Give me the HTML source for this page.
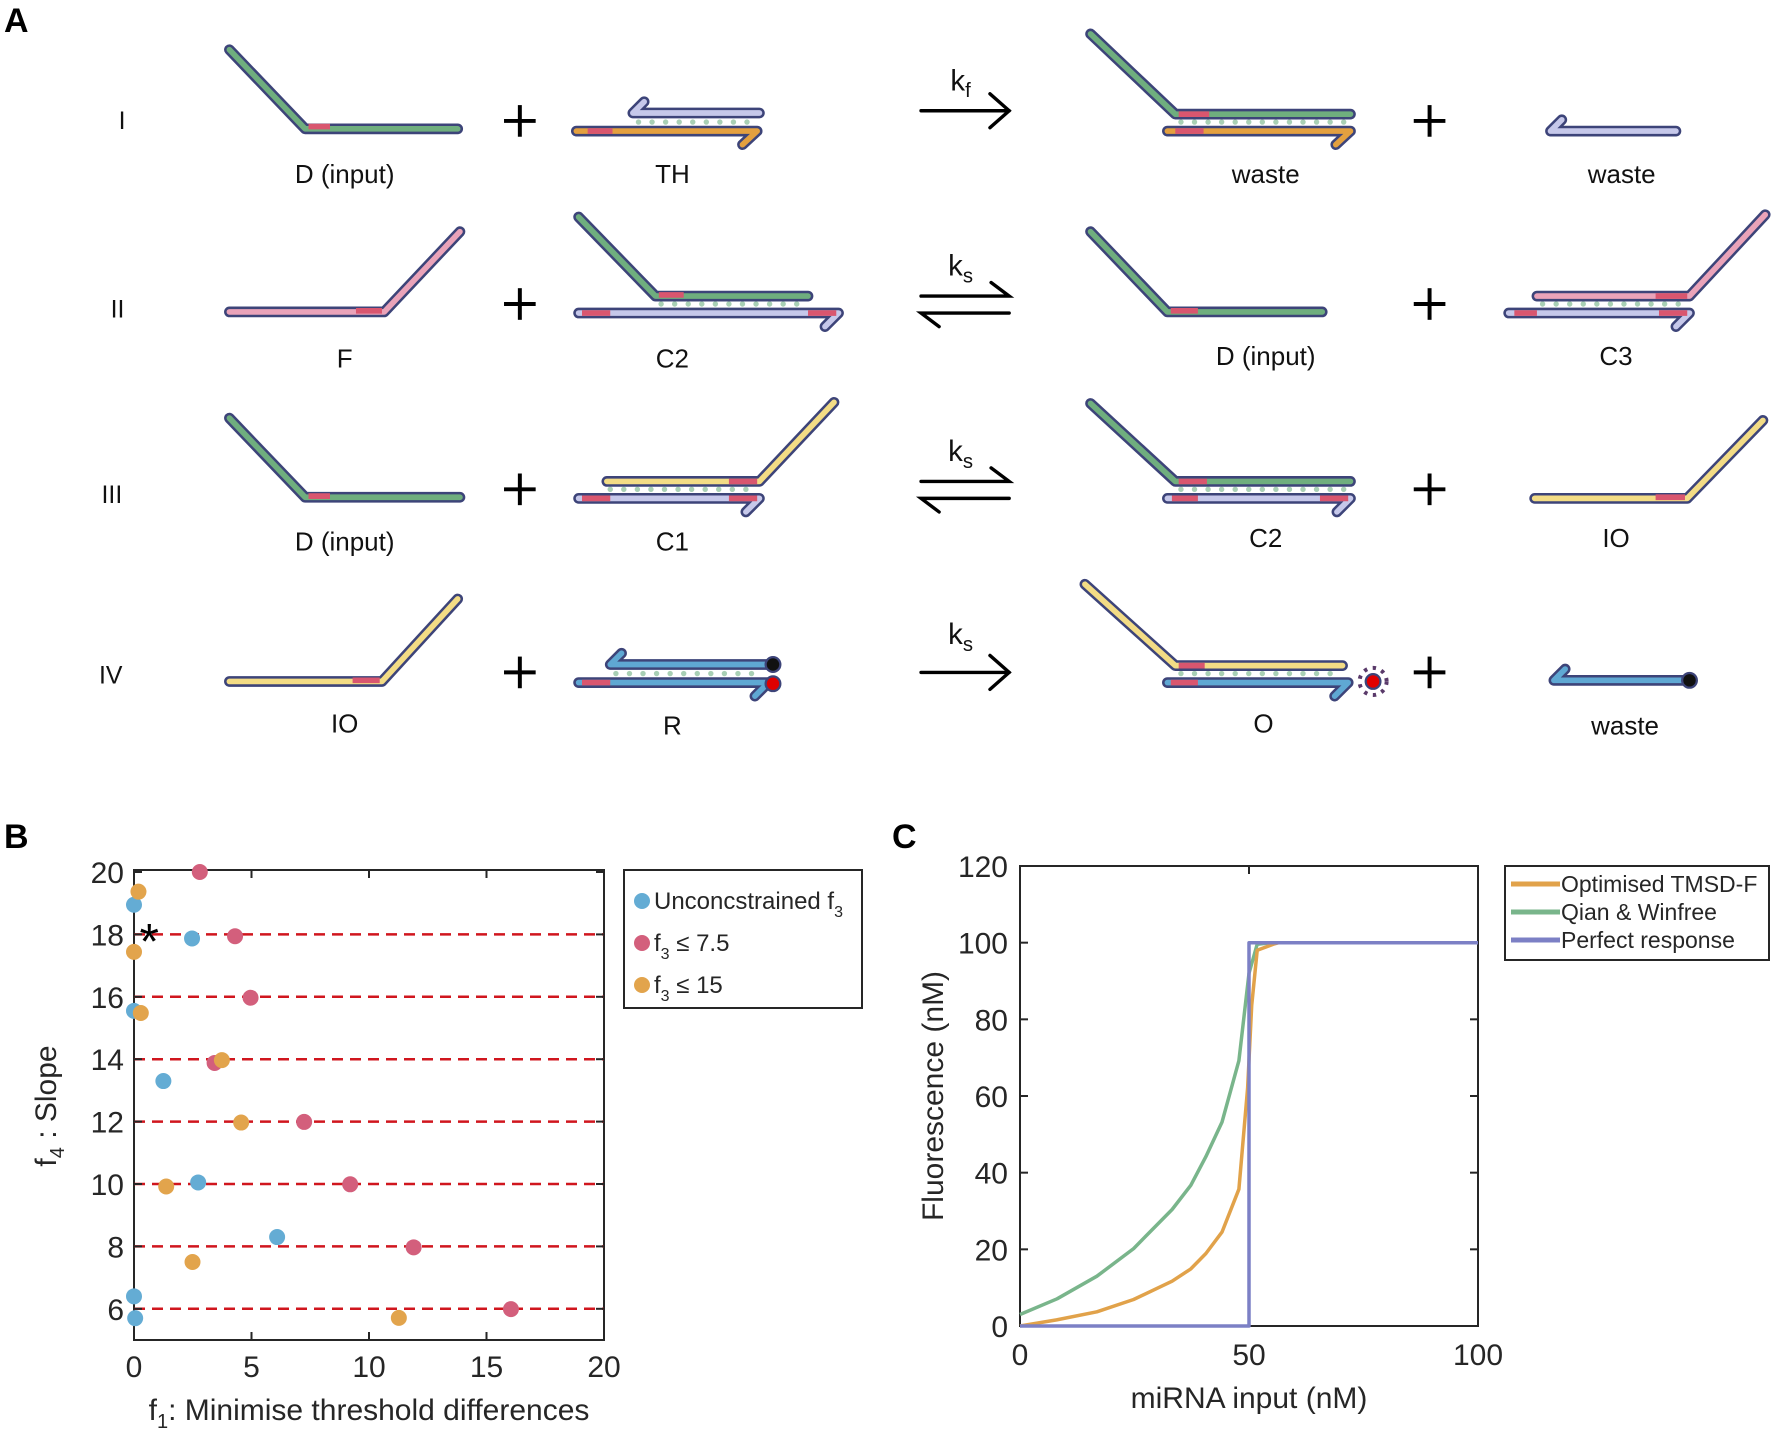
<!DOCTYPE html>
<html><head><meta charset="utf-8"><style>
html,body{margin:0;padding:0;background:#fff;}
svg{display:block;font-family:"Liberation Sans",Arial,sans-serif;}
</style></head><body>
<svg id="fig" width="1772" height="1439" viewBox="0 0 1772 1439" xmlns="http://www.w3.org/2000/svg">
<rect width="1772" height="1439" fill="#fff"/>
<g id="panelA" transform="scale(1.1301)"></g>
<g id="panelB"></g>
<g id="panelC"></g>
</svg>
<script>
// ---------- Panel B data ----------
const bXTicks = [0, 5, 10, 15, 20];
const bYTicks = [6, 8, 10, 12, 14, 16, 18, 20];
const bDashLevels = [6, 8, 10, 12, 14, 16, 18];
const bBlueX = [0, 2.47, 0, 1.25, 2.73, 6.09, 0, 0.05];
const bBlueY = [18.95, 17.87, 15.55, 13.3, 10.05, 8.3, 6.4, 5.7];
const bRedX = [2.8, 4.3, 4.96, 3.43, 7.24, 9.2, 11.9, 16.04];
const bRedY = [20.0, 17.94, 15.97, 13.88, 11.99, 9.99, 7.97, 5.99];
const bOrangeX = [0.19, 0, 0.29, 3.74, 4.56, 1.37, 2.49, 11.27];
const bOrangeY = [19.37, 17.44, 15.48, 13.97, 11.97, 9.92, 7.5, 5.71];
const bStar = [0.65, 17.94];
// ---------- Panel C data ----------
const cXTicks = [0, 50, 100];
const cYTicks = [0, 20, 40, 60, 80, 100, 120];
const cGreenX = [0, 8.1, 16.8, 24.8, 33.2, 37.3, 40.6, 44.1, 47.8, 50, 51.8, 55, 100];
const cGreenY = [3, 7.1, 13, 20.2, 30.4, 36.7, 44.2, 53.2, 69.2, 92, 99.6, 100, 100];
const cOrangeX = [0, 8, 16.8, 24.8, 33.2, 37.3, 40.6, 44.1, 47.8, 49.7, 50.6, 51.8, 55.3, 56.5, 100];
const cOrangeY = [0, 1.6, 3.7, 6.9, 11.7, 14.9, 18.9, 24.5, 35.7, 62, 83.6, 98, 99.6, 100, 100];
const cPerfectX = [0, 50, 50, 100];
const cPerfectY = [0, 0, 100, 100];

const NS = "http://www.w3.org/2000/svg";
function mk(parent, tag, attrs, text) {
  const e = document.createElementNS(NS, tag);
  for (const k in attrs) e.setAttribute(k, attrs[k]);
  if (text !== undefined) e.textContent = text;
  parent.appendChild(e);
  return e;
}

// ================= PANEL A =================
const A = document.getElementById('panelA');
const OUT = '#3d4479';
function strand(pts, color, reds, name) {
  const g = mk(A, 'g', {});
  
  
  const d = pts.map((p, i) => (i ? 'L' : 'M') + p[0] + ' ' + p[1]).join(' ');
  mk(g, 'path', {d: d, fill: 'none', stroke: OUT, 'stroke-width': 9.5, 'stroke-linecap': 'round', 'stroke-linejoin': 'round'});
  mk(g, 'path', {d: d, fill: 'none', stroke: color, 'stroke-width': 5, 'stroke-linecap': 'round', 'stroke-linejoin': 'round'});
  (reds || []).forEach(r => mk(g, 'line', {x1: r[0], y1: r[2], x2: r[1], y2: r[2], stroke: '#d9566f', 'stroke-width': 5}));
}
function dots(x1, x2, y) {
  const g = mk(A, 'g', {});
  
  
  for (let x = x1; x <= x2; x += 12) mk(g, 'circle', {cx: x, cy: y, r: 2.4, fill: '#a9d0b5'});
}
function plus(x, y) {
  const g = mk(A, 'g', {stroke: '#000', 'stroke-width': 3.5});
  
  
  mk(g, 'line', {x1: x - 14, y1: y, x2: x + 14, y2: y});
  mk(g, 'line', {x1: x, y1: y - 14, x2: x, y2: y + 14});
}
function label(x, y, t, size) {
  const e = mk(A, 'text', {x: x, y: y, 'text-anchor': 'middle', 'font-size': size || 23, fill: '#111'}, t);
  
  
  return e;
}
function rate(x, y, sub) {
  const e = mk(A, 'text', {x: x, y: y, 'text-anchor': 'middle', 'font-size': 26, fill: '#111'});
  
  
  e.appendChild(document.createTextNode('k'));
  mk(e, 'tspan', {'font-size': 18, dy: 6}, sub);
}
function arrowF(y) {
  const g = mk(A, 'g', {stroke: '#000', 'stroke-width': 3, fill: 'none', 'stroke-linecap': 'round'});
  
  
  mk(g, 'line', {x1: 815, y1: y, x2: 893, y2: y});
  mk(g, 'path', {d: `M876 ${y - 15} L893 ${y} L876 ${y + 15}`});
}
function arrowEq(y1, y2) {
  const g = mk(A, 'g', {stroke: '#000', 'stroke-width': 3, fill: 'none', 'stroke-linecap': 'round'});
  
  
  mk(g, 'path', {d: `M815 ${y1} L893 ${y1} L877 ${y1 - 12}`});
  mk(g, 'path', {d: `M893 ${y2} L815 ${y2} L831 ${y2 + 12}`});
}
function rowLabel(x, y, t) {
  const e = mk(A, 'text', {x: x, y: y, 'text-anchor': 'middle', 'font-size': 22, fill: '#111'}, t);
  
  
}
const G = '#6fae7e', P = '#eaa3b9', L = '#c6c8ea', O = '#e4a03f', Y = '#f3dc85', B = '#5fa8d3';
// Row I
rowLabel(108, 114, 'I');
strand([[203, 44], [270, 114], [405, 114]], G, [[273, 292, 112]], 'strand-d-input');
label(305, 162, 'D (input)');
plus(460, 107);
dots(565, 668, 108);
strand([[570, 90], [560, 100], [672, 100]], L, [], 'strand-th-top');
strand([[510, 116], [670, 116], [657, 128]], O, [[520, 542, 116]], 'strand-th-bottom');
label(595, 162, 'TH');
arrowF(98); rate(850, 80, 'f');
dots(1045, 1190, 108);
strand([[965, 30], [1040, 101], [1195, 101]], G, [[1043, 1070, 101]], 'strand-waste-green');
strand([[1033, 116], [1195, 116], [1182, 128]], O, [[1040, 1065, 116]], 'strand-waste-orange');
label(1120, 162, 'waste');
plus(1265, 107);
strand([[1382, 106], [1372, 116], [1483, 116]], L, [], 'strand-waste-lavender');
label(1435, 162, 'waste');
// Row II
rowLabel(104, 281, 'II');
strand([[203, 276], [340, 276], [407, 205]], P, [[315, 338, 275]], 'strand-f');
label(305, 325, 'F');
plus(460, 269);
dots(585, 710, 269);
strand([[512, 192], [580, 262], [715, 262]], G, [[583, 605, 261]], 'strand-c2-top');
strand([[512, 277], [742, 277], [730, 289]], L, [[515, 540, 277], [715, 740, 277]], 'strand-c2-bottom');
label(595, 325, 'C2');
arrowEq(262, 277); rate(850, 244, 's');
strand([[965, 205], [1033, 276], [1170, 276]], G, [[1036, 1060, 275]], 'strand-d-input-2');
label(1120, 323, 'D (input)');
plus(1265, 269);
dots(1365, 1490, 269);
strand([[1360, 262], [1495, 262], [1562, 190]], P, [[1465, 1493, 262]], 'strand-c3-top');
strand([[1335, 277], [1495, 277], [1483, 289]], L, [[1340, 1360, 277], [1468, 1493, 277]], 'strand-c3-bottom');
label(1430, 323, 'C3');
// Row III
rowLabel(99, 445, 'III');
strand([[203, 370], [270, 440], [407, 440]], G, [[273, 292, 439]], 'strand-d-input-3');
label(305, 487, 'D (input)');
plus(460, 433);
dots(540, 668, 433);
strand([[537, 426], [672, 426], [738, 356]], Y, [[645, 670, 426]], 'strand-c1-top');
strand([[512, 441], [672, 441], [660, 453]], L, [[515, 540, 441], [645, 670, 441]], 'strand-c1-bottom');
label(595, 487, 'C1');
arrowEq(426, 441); rate(850, 408, 's');
dots(1045, 1190, 433);
strand([[965, 357], [1040, 426], [1195, 426]], G, [[1043, 1068, 426]], 'strand-c2-top-2');
strand([[1033, 441], [1195, 441], [1183, 453]], L, [[1037, 1060, 441], [1168, 1193, 441]], 'strand-c2-bottom-2');
label(1120, 484, 'C2');
plus(1265, 433);
strand([[1358, 441], [1493, 441], [1560, 372]], Y, [[1465, 1491, 440]], 'strand-io');
label(1430, 484, 'IO');
// Row IV
rowLabel(98, 605, 'IV');
strand([[203, 603], [338, 603], [405, 530]], Y, [[312, 336, 602]], 'strand-io-2');
label(305, 648, 'IO');
plus(460, 595);
dots(545, 675, 596);
strand([[550, 578], [540, 588], [680, 588]], B, [], 'strand-r-top');
strand([[512, 604], [680, 604], [668, 616]], B, [[515, 540, 604]], 'strand-r-bottom');
(function(){
  const q = mk(A, 'circle', {cx: 684, cy: 588, r: 6.5, fill: '#111', stroke: OUT, 'stroke-width': 2});
  
  
  const f = mk(A, 'circle', {cx: 684, cy: 605, r: 6.5, fill: '#e00000', stroke: OUT, 'stroke-width': 2});
  
  
})();
label(595, 650, 'R');
arrowF(595); rate(850, 570, 's');
dots(1045, 1185, 596);
strand([[960, 517], [1040, 589], [1188, 589]], Y, [[1043, 1066, 589]], 'strand-o-top');
strand([[1033, 604], [1193, 604], [1181, 616]], B, [[1036, 1060, 604]], 'strand-o-bottom');
(function(){
  const s = mk(A, 'g', {});
  
  
  mk(s, 'circle', {cx: 1215, cy: 603, r: 12, fill: 'none', stroke: '#5a3a6a', 'stroke-width': 3.5, 'stroke-dasharray': '3 5'});
  mk(s, 'circle', {cx: 1215, cy: 603, r: 6.5, fill: '#e00000', stroke: OUT, 'stroke-width': 2});
})();
label(1118, 648, 'O');
plus(1265, 595);
strand([[1385, 592], [1375, 602], [1490, 602]], B, [], 'strand-waste-blue');
(function(){
  const q = mk(A, 'circle', {cx: 1495, cy: 602, r: 6.5, fill: '#111', stroke: OUT, 'stroke-width': 2});
  
  
})();
label(1438, 650, 'waste');

// Panel letters
const svg = document.getElementById('fig');
[['A', 4, 32], ['B', 4, 848], ['C', 892, 848]].forEach(l => {
  const e = mk(svg, 'text', {x: l[1], y: l[2], 'font-size': 34, 'font-weight': 'bold', fill: '#000'}, l[0]);
  
  
});

// ================= PANEL B =================
const PB = document.getElementById('panelB');
const bx0 = 134, bx1 = 604, by0 = 1340, by1 = 872;
const bX = v => bx0 + (v - 0) / 20 * (bx1 - bx0);
const bY = v => by0 - (v - 5) / 15 * (by0 - by1);
(function(){
  const frame = mk(PB, 'rect', {x: bx0, y: 870, width: bx1 - bx0, height: by0 - 870, fill: 'none', stroke: '#262626', 'stroke-width': 2});
  
  
})();
bDashLevels.forEach(v => {
  const l = mk(PB, 'line', {x1: bx0, x2: bx1, y1: bY(v), y2: bY(v), stroke: '#d0161e', 'stroke-width': 2.5, 'stroke-dasharray': '11 7'});
  
  
});
bXTicks.forEach(v => {
  mk(PB, 'line', {x1: bX(v), x2: bX(v), y1: by0, y2: by0 - 8, stroke: '#262626', 'stroke-width': 2});
  mk(PB, 'line', {x1: bX(v), x2: bX(v), y1: 870, y2: 878, stroke: '#262626', 'stroke-width': 2});
  const t = mk(PB, 'text', {x: bX(v), y: 1377, 'text-anchor': 'middle', 'font-size': 30, fill: '#262626'}, String(v));
  
  
});
bYTicks.forEach(v => {
  mk(PB, 'line', {x1: bx0, x2: bx0 + 8, y1: bY(v), y2: bY(v), stroke: '#262626', 'stroke-width': 2});
  mk(PB, 'line', {x1: bx1, x2: bx1 - 8, y1: bY(v), y2: bY(v), stroke: '#262626', 'stroke-width': 2});
  const t = mk(PB, 'text', {x: bx0 - 10, y: bY(v) + 11, 'text-anchor': 'end', 'font-size': 30, fill: '#262626'}, String(v));
  
  
});
function scatter(xs, ys, color, name) {
  xs.forEach((x, i) => {
    const c = mk(PB, 'circle', {cx: bX(x), cy: bY(ys[i]), r: 8, fill: color});
    
    
  });
}
scatter(bBlueX, bBlueY, '#64acd4', 'point-unconstrained');
scatter(bRedX, bRedY, '#d35f7c', 'point-f3-le-7.5');
scatter(bOrangeX, bOrangeY, '#e2a44c', 'point-f3-le-15');
(function(){
  const s = mk(PB, 'text', {x: bX(bStar[0]), y: bY(bStar[1]) + 22, 'text-anchor': 'middle', 'font-size': 50, fill: '#000'}, '*');
  
  
  const xt = mk(PB, 'text', {x: 369, y: 1420, 'text-anchor': 'middle', 'font-size': 30, fill: '#262626'});
  
  
  xt.appendChild(document.createTextNode('f'));
  mk(xt, 'tspan', {'font-size': 20, dy: 8}, '1');
  mk(xt, 'tspan', {dy: -8}, ': Minimise threshold differences');
  const yt = mk(PB, 'text', {x: 0, y: 0, 'text-anchor': 'middle', 'font-size': 30, fill: '#262626', transform: 'translate(56,1106) rotate(-90)'});
  
  
  yt.appendChild(document.createTextNode('f'));
  mk(yt, 'tspan', {'font-size': 20, dy: 8}, '4');
  mk(yt, 'tspan', {dy: -8}, ' : Slope');
  // legend
  const lg = mk(PB, 'g', {});
  
  
  mk(lg, 'rect', {x: 624, y: 870, width: 238, height: 138, fill: '#fff', stroke: '#262626', 'stroke-width': 2});
  const ent = [['#64acd4', 'Unconcstrained f', '3', ''], ['#d35f7c', 'f', '3', ' \u2264 7.5'], ['#e2a44c', 'f', '3', ' \u2264 15']];
  ent.forEach((e, i) => {
    const y = 903 + i * 42;
    const row = mk(lg, 'g', {});
    
    
    mk(row, 'circle', {cx: 642, cy: y - 2, r: 8, fill: e[0]});
    const t = mk(row, 'text', {x: 654, y: y + 6, 'font-size': 24, fill: '#262626'});
    t.appendChild(document.createTextNode(e[1]));
    mk(t, 'tspan', {'font-size': 16, dy: 8}, e[2]);
    if (e[3]) mk(t, 'tspan', {dy: -8}, e[3]);
  });
})();

// ================= PANEL C =================
const PC = document.getElementById('panelC');
const cx0 = 1020, cx1 = 1478, cy0 = 1326, cy1 = 866;
const cX = v => cx0 + v / 100 * (cx1 - cx0);
const cY = v => cy0 - v / 120 * (cy0 - cy1);
(function(){
  const frame = mk(PC, 'rect', {x: cx0, y: cy1, width: cx1 - cx0, height: cy0 - cy1, fill: 'none', stroke: '#262626', 'stroke-width': 2});
  
  
})();
cXTicks.forEach(v => {
  mk(PC, 'line', {x1: cX(v), x2: cX(v), y1: cy0, y2: cy0 - 8, stroke: '#262626', 'stroke-width': 2});
  mk(PC, 'line', {x1: cX(v), x2: cX(v), y1: cy1, y2: cy1 + 8, stroke: '#262626', 'stroke-width': 2});
  const t = mk(PC, 'text', {x: cX(v), y: 1365, 'text-anchor': 'middle', 'font-size': 30, fill: '#262626'}, String(v));
  
  
});
cYTicks.forEach(v => {
  mk(PC, 'line', {x1: cx0, x2: cx0 + 8, y1: cY(v), y2: cY(v), stroke: '#262626', 'stroke-width': 2});
  mk(PC, 'line', {x1: cx1, x2: cx1 - 8, y1: cY(v), y2: cY(v), stroke: '#262626', 'stroke-width': 2});
  const t = mk(PC, 'text', {x: cx0 - 12, y: cY(v) + 11, 'text-anchor': 'end', 'font-size': 30, fill: '#262626'}, String(v));
  
  
});
function line(xs, ys, color, name) {
  const d = xs.map((x, i) => (i ? 'L' : 'M') + cX(x).toFixed(1) + ' ' + cY(ys[i]).toFixed(1)).join(' ');
  const p = mk(PC, 'path', {d: d, fill: 'none', stroke: color, 'stroke-width': 3.5, 'stroke-linejoin': 'round'});
  
  
}
line(cGreenX, cGreenY, '#79b58b', 'line-qian-winfree');
line(cOrangeX, cOrangeY, '#e1a24a', 'line-optimised-tmsd-f');
line(cPerfectX, cPerfectY, '#7c80c5', 'line-perfect-response');
(function(){
  const xt = mk(PC, 'text', {x: 1249, y: 1408, 'text-anchor': 'middle', 'font-size': 30, fill: '#262626'}, 'miRNA input (nM)');
  
  
  const yt = mk(PC, 'text', {x: 0, y: 0, 'text-anchor': 'middle', 'font-size': 30, fill: '#262626', transform: 'translate(943,1096) rotate(-90)'}, 'Fluorescence (nM)');
  
  
  const lg = mk(PC, 'g', {});
  
  
  mk(lg, 'rect', {x: 1505, y: 866, width: 264, height: 94, fill: '#fff', stroke: '#262626', 'stroke-width': 2});
  const ent = [['#e1a24a', 'Optimised TMSD-F'], ['#79b58b', 'Qian & Winfree'], ['#7c80c5', 'Perfect response']];
  ent.forEach((e, i) => {
    const y = 884 + i * 28;
    const row = mk(lg, 'g', {});
    
    
    mk(row, 'line', {x1: 1511, x2: 1560, y1: y, y2: y, stroke: e[0], 'stroke-width': 5});
    mk(row, 'text', {x: 1561, y: y + 8, 'font-size': 23, fill: '#262626'}, e[1]);
  });
})();
</script>
</body></html>
